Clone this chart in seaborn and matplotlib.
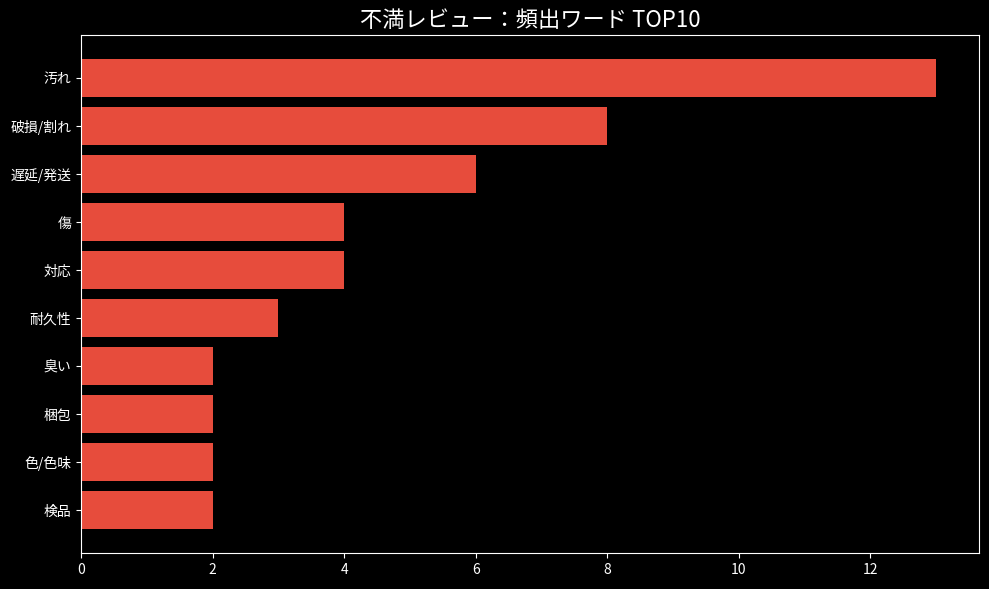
import pandas as pd
import matplotlib.pyplot as plt
import seaborn as sns

words = ['汚れ', '破損/割れ', '遅延/発送', '傷', '対応', '耐久性', '臭い', '梱包', '色/色味', '検品']
counts = [13, 8, 6, 4, 4, 3, 2, 2, 2, 2]

plt.style.use('dark_background')
plt.rcParams['font.family'] = ['Noto Sans CJK JP', 'DejaVu Sans']

df = pd.DataFrame({'word': words, 'count': counts})

fig, ax = plt.subplots(figsize=(9.89, 5.89), dpi=100)
sns.barplot(data=df, x='count', y='word', color='#e74c3c', saturation=1, width=0.8, ax=ax)

# match matplotlib's default 5% margin on the category axis
n = len(words)
pad = 0.4 + 0.05 * (n - 1 + 0.8)
ax.set_ylim(n - 1 + pad, -pad)
ax.set_xlim(0, max(counts) * 1.05)

ax.set_title('不満レビュー：頻出ワード TOP10', fontsize=16)
ax.set_xlabel('')
ax.set_ylabel('')
for s in ax.spines.values():
    s.set_visible(True)
    s.set_color('white')
ax.grid(False)
fig.subplots_adjust(left=81 / 989, right=979 / 989, top=1 - 35 / 589, bottom=1 - 553 / 589)
plt.savefig('out.png', dpi=100)
